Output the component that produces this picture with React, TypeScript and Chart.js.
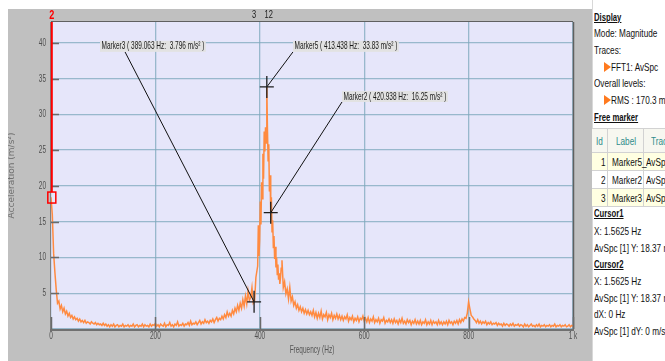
import React, { useEffect, useRef } from 'react';
import { Chart, registerables } from 'chart.js';

Chart.register(...registerables);

// ---------- DATA ----------
// Each band: start frequency (Hz), bin spacing (Hz), amplitudes (m/s²)
const BAND_0_START = 0;
const BAND_0_STEP = 2.5;
const BAND_0 = [
  18.4, 16.0, 10.6, 7.9, 5.5,
  3.6, 3.9, 2.8, 3.3,
  2.4, 2.9, 2.1, 2.5, 1.8, 2.2, 1.6, 1.9,
  1.4, 1.7, 1.3, 1.5, 1.1, 1.4, 1.0, 1.2,
  0.9, 1.2, 0.8, 1.0, 0.9, 0.7, 1.0, 0.8,
  0.7, 0.9, 0.6, 0.8, 0.6, 0.7, 0.5, 0.8,
];
const BAND_100_START = 102.5;
const BAND_100_STEP = 2.5;
const BAND_100 = [
  0.5, 0.7, 0.4, 0.6, 0.3, 0.6, 0.4, 0.7, 0.3, 0.5, 0.6, 0.3, 0.5, 0.4, 0.7, 0.3, 0.5, 0.4, 0.6, 0.3,
  0.5, 0.4, 0.7, 0.3, 0.5, 0.6, 0.3, 0.5, 0.4, 0.7, 0.3, 0.6, 0.4, 0.5, 0.3, 0.7, 0.4, 0.6, 0.5, 0.8,
  0.4, 0.6, 0.3, 0.7, 0.5, 0.4, 0.8, 0.3, 0.6, 0.5, 0.9, 0.4, 0.6, 0.3, 0.7, 0.5, 1.0, 0.4, 0.6, 0.5,
  0.8, 0.4, 0.7, 0.6, 0.9, 0.5, 1.1, 0.6, 0.8, 0.7, 1.0, 0.6, 0.9, 1.2, 0.7, 1.0, 0.8, 1.3, 0.9, 1.1,
];
const BAND_300_START = 302.5;
const BAND_300_STEP = 2.5;
const BAND_300 = [
  0.8, 1.2, 1.0, 1.4, 0.9, 1.3, 1.6, 1.1, 1.5, 1.3, 1.8, 1.4, 2.0, 1.6, 2.4, 1.8,
  2.2, 1.8, 2.6, 2.1, 2.9, 2.4, 3.3, 2.6, 3.6, 2.9, 4.1, 3.2, 4.6, 3.5, 5.3, 4.0,
  4.4, 5.8, 3.6, 3.9, 7.2,
];
const PEAK_START = 395.9375;
const PEAK_STEP = 1.25;
const PEAK = [
  8.8, 14.5, 10.2, 12.4, 17.8, 14.6, 20.5, 18.2, 24.5, 21.0, 27.6, 24.8, 28.2, 26.0,
  33.83, 27.8, 23.5, 25.8, 19.2, 21.5, 16.25, 18.4, 13.6, 15.2, 11.4, 13.0, 9.8, 11.5,
  8.6, 10.0, 7.6, 9.0, 6.9, 7.8, 6.3, 7.2, 8.5,
];
const BAND_442_START = 442.5;
const BAND_442_STEP = 2.5;
const BAND_442 = [9.6, 5.8, 6.6, 4.9, 5.6, 4.2, 5.8, 3.9];
const BAND_460_START = 462.5;
const BAND_460_STEP = 2.5;
const BAND_460 = [4.5, 3.3, 3.8, 2.9, 3.4, 2.6, 3.1, 2.4, 2.9, 2.2, 2.7, 2.1, 2.6, 2.0, 2.4, 1.9];
const BAND_500_START = 502.5;
const BAND_500_STEP = 2.5;
const BAND_500 = [
  2.6, 1.7, 2.3, 1.5, 2.2, 1.6, 2.5, 1.4, 2.0, 1.7, 2.3, 1.3, 2.0, 1.6, 2.2, 1.3, 1.9, 1.5, 2.1, 1.4,
  1.9, 1.3, 1.8, 1.2, 1.7, 1.4, 2.0, 1.1, 1.6, 1.3, 1.8, 1.0, 1.5, 1.2, 1.7, 1.0, 1.5, 1.3, 1.8, 1.1,
  1.5, 1.0, 1.6, 0.9, 1.4, 1.1, 1.7, 0.9, 1.3, 1.0, 1.5, 0.8, 1.3, 1.1, 1.6, 0.8, 1.2, 1.0, 1.4, 0.9,
  1.3, 0.8, 1.4, 0.9, 1.2, 0.7, 1.3, 0.9, 1.5, 0.8, 1.1, 0.7, 1.3, 0.9, 1.2, 0.6, 1.1, 0.8, 1.3, 0.7,
  1.1, 0.7, 1.2, 0.6, 1.0, 0.8, 1.3, 0.6, 1.0, 0.7, 1.2, 0.6, 1.1, 0.8, 1.0, 0.6, 1.2, 0.7, 1.0, 0.6,
];
const BAND_750_START = 752.5;
const BAND_750_STEP = 2.5;
const BAND_750 = [
  1.0, 0.7, 1.1, 0.6, 1.2, 0.8, 1.0, 0.6, 1.1, 0.8, 1.2, 0.7, 1.3, 0.9, 1.4, 1.1,
  1.6, 1.5, 2.2, 3.8, 2.8, 1.9, 1.7, 1.4,
];
const BAND_810_START = 812.5;
const BAND_810_STEP = 2.5;
const BAND_810 = [
  1.2, 0.9, 1.3, 0.8, 1.1, 0.7, 1.0, 0.8, 1.1, 0.6, 0.9, 0.7, 1.0, 0.6, 0.8, 0.7,
  0.9, 0.5, 0.8, 0.6, 0.7, 0.4, 0.8, 0.5, 0.7, 0.6, 0.4, 0.7, 0.5, 0.8, 0.4, 0.6, 0.5, 0.7, 0.4, 0.6,
  0.5, 0.3, 0.7, 0.4, 0.6, 0.3, 0.5, 0.7, 0.4, 0.5, 0.3, 0.6, 0.4, 0.7, 0.3, 0.5, 0.4, 0.6, 0.3, 0.5,
  0.4, 0.6, 0.3, 0.5, 0.4, 0.7, 0.3, 0.5, 0.4, 0.6, 0.3, 0.5, 0.4, 0.6, 0.3, 0.4, 0.6, 0.3, 0.5, 0.4,
];

const BANDS: [number, number, number[]][] = [
  [BAND_0_START, BAND_0_STEP, BAND_0],
  [BAND_100_START, BAND_100_STEP, BAND_100],
  [BAND_300_START, BAND_300_STEP, BAND_300],
  [PEAK_START, PEAK_STEP, PEAK],
  [BAND_442_START, BAND_442_STEP, BAND_442],
  [BAND_460_START, BAND_460_STEP, BAND_460],
  [BAND_500_START, BAND_500_STEP, BAND_500],
  [BAND_750_START, BAND_750_STEP, BAND_750],
  [BAND_810_START, BAND_810_STEP, BAND_810],
];

const X_MIN = 0;
const X_MAX = 1000;
const Y_MIN = 0;
const Y_MAX = 42.9;
const X_TICK_VALUES = [0, 200, 400, 600, 800, 1000];
const X_TICK_LABELS = ['0', '200', '400', '600', '800', '1 k'];
const Y_TICK_VALUES = [5, 10, 15, 20, 25, 30, 35, 40];
const X_TITLE = 'Frequency (Hz)';
const Y_TITLE = 'Acceleration (m/s²)';

const MARKER_NAMES = ['Marker5', 'Marker2', 'Marker3'];
const MARKER_FREQS = [413.438, 420.938, 389.063];
const MARKER_AMPS = [33.83, 16.25, 3.796];
const MARKER_LABEL_FREQS = [463.6, 557.5, 93.9];
const MARKER_LABEL_AMPS = [40.26, 33.26, 40.26];

const TOP_LABELS = ['2', '3', '12'];
const TOP_LABEL_FREQS = [1.5625, 389.063, 417.188];

const CURSOR_FREQ = 1.5625;
const CURSOR_AMP = 18.37;

const TABLE_IDS = ['1', '2', '3'];
const TABLE_LABELS = ['Marker5_', 'Marker2', 'Marker3'];
const TABLE_TRACES = ['AvSpc [1]', 'AvSpc [1]', 'AvSpc [1]'];

// ---------- STYLE ----------
const FONT = "'Liberation Sans', Arial, sans-serif";
const FS = 11;
const SX = 0.59;
const LEADER_DX = [0, 0, 25];

function drawText(
  ctx: CanvasRenderingContext2D,
  text: string,
  x: number,
  y: number,
  o: { size?: number; color?: string; align?: 'left' | 'center' | 'right'; sx?: number; bold?: boolean; family?: string } = {}
) {
  const size = o.size ?? FS;
  const sx = o.sx ?? SX;
  ctx.save();
  ctx.font = `${o.bold ? 'bold ' : ''}${size}px ${o.family ?? FONT}`;
  ctx.fillStyle = o.color ?? '#505050';
  ctx.textBaseline = 'middle';
  ctx.textAlign = 'left';
  const w = ctx.measureText(text).width * sx;
  const x0 = o.align === 'center' ? x - w / 2 : o.align === 'right' ? x - w : x;
  ctx.translate(x0, y);
  ctx.scale(sx, 1);
  ctx.fillText(text, 0, 0);
  ctx.restore();
  return w;
}

const framePlugin = {
  id: 'frame',
  beforeDraw(chart: any) {
    const { ctx, chartArea: a } = chart;
    ctx.save();
    ctx.fillStyle = '#e6e6fa';
    ctx.fillRect(a.left, a.top, a.right - a.left, a.bottom - a.top);
    ctx.restore();
  },
  afterDraw(chart: any) {
    const { ctx, chartArea: a } = chart;
    const xs = chart.scales.x;
    const ys = chart.scales.y;
    ctx.save();
    // borders
    ctx.strokeStyle = '#808080';
    ctx.lineWidth = 1;
    ctx.beginPath();
    ctx.moveTo(a.left - 0.5, a.top);
    ctx.lineTo(a.left - 0.5, a.bottom);
    ctx.stroke();
    ctx.strokeStyle = '#606060';
    ctx.beginPath();
    ctx.moveTo(a.left, a.top - 0.5);
    ctx.lineTo(a.right, a.top - 0.5);
    ctx.stroke();
    ctx.lineWidth = 1.5;
    ctx.beginPath();
    ctx.moveTo(a.right + 0.5, a.top);
    ctx.lineTo(a.right + 0.5, a.bottom);
    ctx.stroke();
    ctx.strokeStyle = '#707070';
    ctx.lineWidth = 2;
    ctx.beginPath();
    ctx.moveTo(a.left - 1, a.bottom + 1);
    ctx.lineTo(a.right + 1, a.bottom + 1);
    ctx.stroke();

    // inner tick marks
    ctx.strokeStyle = '#6a6a6a';
    ctx.lineWidth = 1.5;
    Y_TICK_VALUES.forEach((v) => {
      const y = Math.round(ys.getPixelForValue(v)) + 0.5;
      ctx.beginPath();
      ctx.moveTo(a.left, y);
      ctx.lineTo(a.left + 8, y);
      ctx.stroke();
    });
    X_TICK_VALUES.forEach((v) => {
      const x = Math.round(xs.getPixelForValue(v)) + 0.5;
      ctx.beginPath();
      ctx.moveTo(x, a.bottom);
      ctx.lineTo(x, a.bottom - 12);
      ctx.stroke();
    });

    // tick labels
    Y_TICK_VALUES.forEach((v) => {
      drawText(ctx, String(v), a.left - 5, ys.getPixelForValue(v), { align: 'right' });
    });
    X_TICK_VALUES.forEach((v, i) => {
      drawText(ctx, X_TICK_LABELS[i], xs.getPixelForValue(v), a.bottom + 7, { align: 'center' });
    });

    // axis titles
    drawText(ctx, X_TITLE, (a.left + a.right) / 2, a.bottom + 21, { align: 'center', color: '#555' });
    ctx.save();
    ctx.translate(4, (a.top + a.bottom) / 2);
    ctx.rotate(-Math.PI / 2);
    drawText(ctx, Y_TITLE, 0, 0, { align: 'center', size: 9, sx: 1, family: "'DejaVu Sans', sans-serif", color: '#707070' });
    ctx.restore();

    // top labels
    TOP_LABELS.forEach((t, i) => {
      const x = xs.getPixelForValue(TOP_LABEL_FREQS[i]);
      if (i === 0) drawText(ctx, t, x, 6, { align: 'center', color: '#ff0000', bold: true, size: 13, sx: 0.7 });
      else drawText(ctx, t, x, 6, { align: 'center', color: '#202020', size: 11, sx: 0.68 });
    });

    // cursor
    const cx = xs.getPixelForValue(CURSOR_FREQ);
    const cy = ys.getPixelForValue(CURSOR_AMP);
    ctx.strokeStyle = '#ff0000';
    ctx.lineWidth = 2;
    ctx.beginPath();
    ctx.moveTo(cx, a.top);
    ctx.lineTo(cx, cy - 5.5);
    ctx.stroke();
    ctx.lineWidth = 1.5;
    ctx.strokeRect(cx - 4, cy - 5.5, 8, 11);

    // markers
    MARKER_NAMES.forEach((name, i) => {
      const mx = xs.getPixelForValue(MARKER_FREQS[i]);
      const my = ys.getPixelForValue(MARKER_AMPS[i]);
      const lx = xs.getPixelForValue(MARKER_LABEL_FREQS[i]);
      const ly = ys.getPixelForValue(MARKER_LABEL_AMPS[i]);
      const text = `${name} ( ${MARKER_FREQS[i]} Hz:  ${MARKER_AMPS[i]} m/s² )`;
      ctx.save();
      ctx.font = `${FS}px ${FONT}`;
      const w = ctx.measureText(text).width * SX;
      ctx.restore();
      // leader line
      ctx.strokeStyle = '#111';
      ctx.lineWidth = 1;
      ctx.beginPath();
      ctx.moveTo(lx + LEADER_DX[i], ly + 11);
      ctx.lineTo(mx, my);
      ctx.stroke();
      // label box
      ctx.fillStyle = '#e2e2e2';
      ctx.fillRect(lx, ly, w + 3, 11);
      drawText(ctx, text, lx + 1.5, ly + 5.5, { color: '#1a1a1a' });
      // crosshair
      ctx.strokeStyle = '#1e1e1e';
      ctx.lineWidth = 1.3;
      ctx.beginPath();
      ctx.moveTo(mx - 7, my);
      ctx.lineTo(mx + 7, my);
      ctx.moveTo(mx, my - 11);
      ctx.lineTo(mx, my + 11);
      ctx.stroke();
    });
    ctx.restore();
  },
};

// ---------- PANEL ----------
const PFONT = "'Liberation Sans', Arial, sans-serif";

function T(props: { x: number; y: number; text: string; bold?: boolean; u?: boolean; color?: string }) {
  return (
    <div
      style={{
        position: 'absolute',
        left: props.x,
        top: props.y - 7,
        height: 14,
        lineHeight: '14px',
        fontFamily: PFONT,
        fontSize: 11,
        fontWeight: props.bold ? 'bold' : 'normal',
        textDecoration: props.u ? 'underline' : 'none',
        color: props.color ?? '#111',
        whiteSpace: 'nowrap',
        transform: props.bold ? 'scaleX(0.7)' : 'scaleX(0.745)',
        transformOrigin: 'left center',
      }}
    >
      {props.text}
    </div>
  );
}

function Tri(props: { x: number; y: number }) {
  return (
    <div
      style={{
        position: 'absolute',
        left: props.x,
        top: props.y - 5,
        width: 0,
        height: 0,
        borderTop: '5px solid transparent',
        borderBottom: '5px solid transparent',
        borderLeft: '7px solid #ff7a1f',
      }}
    />
  );
}

function Panel() {
  const rowTops = [153, 171, 189];
  const rowBgs = ['#ffffe2', '#ffffff', '#ffffe2'];
  const line = '#d2d2d2';
  return (
    <div>
      <div style={{ position: 'absolute', left: 592, top: 0, width: 80, height: 361, background: '#fff', borderLeft: '1px solid #d8d8d8' }} />
      <T x={594} y={17} text="Display" bold u />
      <T x={594} y={33} text="Mode: Magnitude" />
      <T x={594} y={50} text="Traces:" />
      <Tri x={604} y={67} />
      <T x={611} y={67} text="FFT1: AvSpc" />
      <T x={594} y={83} text="Overall levels:" />
      <Tri x={604} y={100} />
      <T x={611} y={100} text="RMS : 170.3 m/s²" />
      <T x={594} y={117} text="Free marker" bold u />
      {/* table */}
      <div style={{ position: 'absolute', left: 592, top: 128, width: 80, height: 25, background: '#f7f7f0', borderTop: `1px solid ${line}`, borderBottom: `1px solid ${line}`, boxSizing: 'border-box' }} />
      {rowTops.map((t, i) => (
        <div key={i} style={{ position: 'absolute', left: 592, top: t, width: 80, height: 18, background: rowBgs[i], borderBottom: `1px solid ${line}`, boxSizing: 'border-box' }} />
      ))}
      <div style={{ position: 'absolute', left: 607, top: 128, width: 1, height: 79, background: line }} />
      <div style={{ position: 'absolute', left: 643, top: 128, width: 1, height: 79, background: line }} />
      <T x={596} y={141} text="Id" color="#2e8b8b" />
      <T x={616} y={141} text="Label" color="#2e8b8b" />
      <T x={651} y={141} text="Trace" color="#2e8b8b" />
      {TABLE_IDS.map((id, i) => (
        <React.Fragment key={id}>
          <T x={601} y={rowTops[i] + 9} text={id} />
          <T x={612} y={rowTops[i] + 9} text={TABLE_LABELS[i]} />
          <T x={646} y={rowTops[i] + 9} text={TABLE_TRACES[i]} />
        </React.Fragment>
      ))}
      <T x={594} y={213} text="Cursor1" bold u />
      <T x={594} y={231} text={`X: ${CURSOR_FREQ} Hz`} />
      <T x={594} y={248} text={`AvSpc [1] Y: ${CURSOR_AMP} m/s²`} />
      <T x={594} y={264} text="Cursor2" bold u />
      <T x={594} y={281} text={`X: ${CURSOR_FREQ} Hz`} />
      <T x={594} y={298} text={`AvSpc [1] Y: ${CURSOR_AMP} m/s²`} />
      <T x={594} y={314} text="dX: 0 Hz" />
      <T x={594} y={331} text="AvSpc [1] dY: 0 m/s²" />
    </div>
  );
}

export default function App() {
  const ref = useRef<HTMLCanvasElement>(null);
  useEffect(() => {
    const points = BANDS.flatMap(([start, step, vals]) => vals.map((v, j) => ({ x: start + j * step, y: v })));
    const grid = { color: 'rgba(125,168,188,0.75)', lineWidth: 1.3, drawTicks: false };
    const chart = new Chart(ref.current as HTMLCanvasElement, {
      type: 'line',
      data: {
        datasets: [
          {
            data: points,
            borderColor: '#ff8a40',
            borderWidth: 1.5,
            pointRadius: 0,
            fill: false,
            tension: 0,
          },
        ],
      },
      options: {
        animation: false,
        responsive: false,
        maintainAspectRatio: false,
        devicePixelRatio: 1,
        events: [],
        layout: { padding: { left: 43, top: 13, right: 19, bottom: 32 } },
        plugins: { legend: { display: false }, tooltip: { enabled: false } },
        scales: {
          x: {
            type: 'linear',
            min: X_MIN,
            max: X_MAX,
            ticks: { display: false, stepSize: 200 },
            grid,
            border: { display: false },
          },
          y: {
            type: 'linear',
            min: Y_MIN,
            max: Y_MAX,
            ticks: { display: false, stepSize: 5, includeBounds: false },
            grid,
            border: { display: false },
          },
        },
      } as any,
      plugins: [framePlugin],
    });
    return () => chart.destroy();
  }, []);
  return (
    <div style={{ position: 'fixed', left: 0, top: 0, width: 665, height: 361, overflow: 'hidden', background: '#fff' }}>
      <canvas
        ref={ref}
        width={584}
        height={352}
        style={{ position: 'absolute', left: 8, top: 9, width: 584, height: 352, background: '#c0c0c0' }}
      />
      <Panel />
    </div>
  );
}
